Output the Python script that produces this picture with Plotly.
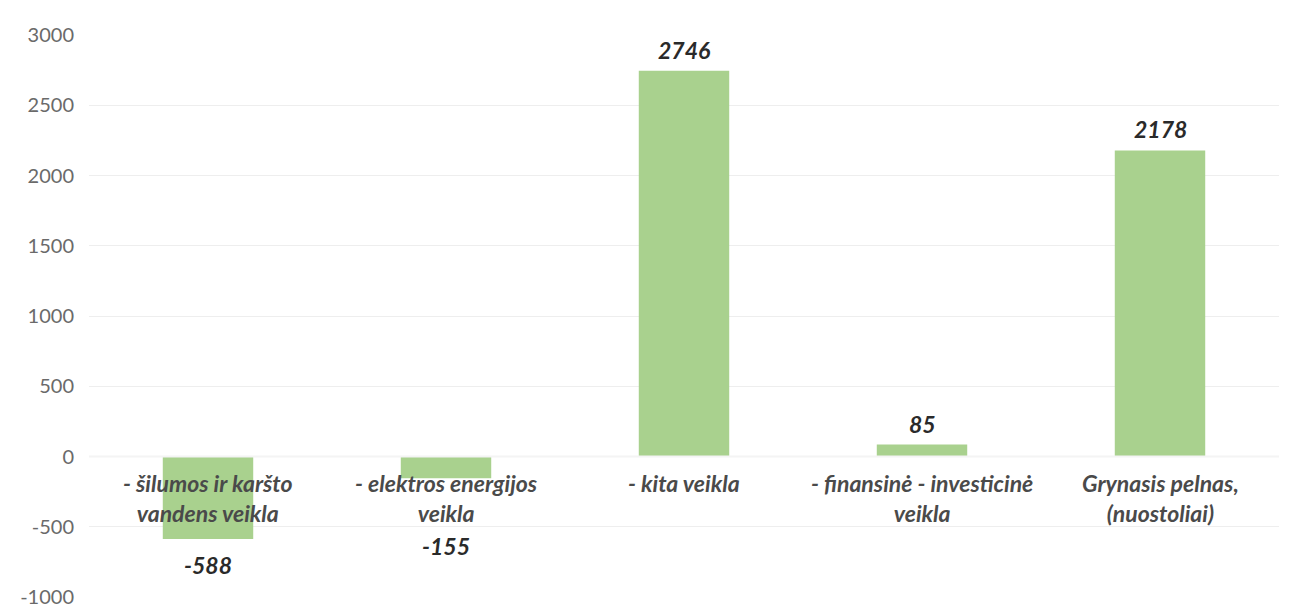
import plotly.graph_objects as go

categories = ["- šilumos ir karšto<br>vandens veikla",
              "- elektros energijos<br>veikla",
              "- kita veikla",
              "- finansinė - investicinė<br>veikla",
              "Grynasis pelnas,<br>(nuostoliai)"]
values = [-588, -155, 2746, 85, 2178]
value_labels = ["-588", "-155", "2746", "85", "2178"]
label_shift = [-26, -68, 21, 21, 21]
y_ticks = [-1000, -500, 0, 500, 1000, 1500, 2000, 2500, 3000]

xs = list(range(len(categories)))

fig = go.Figure()
fig.add_trace(go.Bar(x=xs, y=values, marker=dict(color="#a9d18e", line=dict(width=0)),
                     width=0.38, hoverinfo="skip"))

annotations = []
for i, (c, v, lab, sh) in enumerate(zip(categories, values, value_labels, label_shift)):
    annotations.append(dict(x=i, y=0, xref="x", yref="y", text="<b><i>" + c + "</i></b>",
                            showarrow=False, yanchor="top", yshift=-10,
                            font=dict(family="Lato, Open Sans, sans-serif", size=23, color="#4a4a4a")))
    annotations.append(dict(x=i, y=v, xref="x", yref="y", text="<b><i>" + lab + "</i></b>",
                            showarrow=False, yanchor="middle", yshift=sh,
                            font=dict(family="Lato, Open Sans, sans-serif", size=23, color="#2a2a2a")))

fig.update_layout(
    width=1290, height=612,
    margin=dict(l=81, r=19, t=27, b=20),
    paper_bgcolor="white", plot_bgcolor="white",
    showlegend=False,
    bargap=0.6,
    xaxis=dict(range=[-0.5, 4.5], showticklabels=False, showgrid=False, zeroline=False,
               showline=False, ticks=""),
    yaxis=dict(range=[-1000, 3000], tickvals=y_ticks, ticktext=[str(t) for t in y_ticks],
               showgrid=True, gridcolor="#eeeeee", gridwidth=1, zeroline=False,
               showline=False, ticks="", ticklabelstandoff=14,
               tickfont=dict(family="Lato, Open Sans, sans-serif", size=20, color="#6a6a6a")),
    annotations=annotations,
    shapes=[dict(type="line", xref="paper", yref="y", x0=0, x1=1, y0=0, y1=0,
                 line=dict(color="#f4f4f4", width=2), layer="above")],
)

fig.write_html("out.html")
